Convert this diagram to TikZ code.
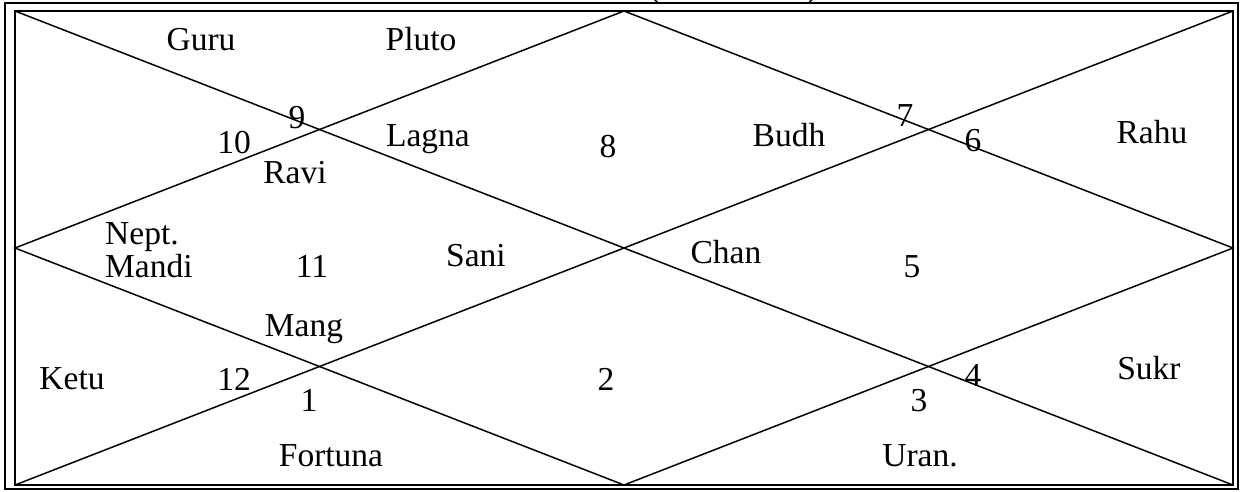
\documentclass[tikz,border=0pt]{standalone}
\usepackage{fontspec}
\setmainfont{Liberation Serif}

\begin{document}
\begin{tikzpicture}[x=1pt,y=-1pt,
    house/.style={line width=1.5pt,black},
    graha/.style={anchor=base,inner sep=0pt,font=\fontsize{33.5}{36}\selectfont}]
\useasboundingbox (0,0) rectangle (1240,491);
\coordinate (tl) at (15,11);
\coordinate (tr) at (1233,11);
\coordinate (bl) at (15,485);
\coordinate (br) at (1233,485);
\coordinate (tm) at (624,11);
\coordinate (bm) at (624,485);
\coordinate (lm) at (15,248);
\coordinate (rm) at (1233,248);
\draw[line width=1.1pt] (5,3) rectangle (1238,489);
\draw[line width=1.8pt] (tl) rectangle (br);
\draw[house] (tl) -- (br) (bl) -- (tr);
\draw[house] (tm) -- (rm) -- (bm) -- (lm) -- cycle;
\node[graha] (titleL) at (655,-3) {(};
\node[graha] (titleR) at (812,-3) {)};
\node[graha] (guru) at (201,50) {Guru};
\node[graha] (pluto) at (421,50) {Pluto};
\node[graha] (h9) at (297,128) {9};
\node[graha] (h10) at (234,153) {10};
\node[graha] (ravi) at (295,183) {Ravi};
\node[graha] (lagna) at (428,146) {Lagna};
\node[graha] (h8) at (608,157) {8};
\node[graha] (budh) at (789,146) {Budh};
\node[graha] (h7) at (905,126) {7};
\node[graha] (h6) at (973,151) {6};
\node[graha] (rahu) at (1152,143) {Rahu};
\node[graha,anchor=base west] (nept) at (105,244) {Nept.};
\node[graha,anchor=base west] (mandi) at (105,277) {Mandi};
\node[graha] (h11) at (312,277) {11};
\node[graha] (sani) at (476,266) {Sani};
\node[graha] (chan) at (726,263) {Chan};
\node[graha] (h5) at (912,277) {5};
\node[graha] (mang) at (304,336) {Mang};
\node[graha] (ketu) at (72,389) {Ketu};
\node[graha] (h12) at (234,390) {12};
\node[graha] (h1) at (309,411) {1};
\node[graha] (h2) at (606,390) {2};
\node[graha] (h4) at (973,386) {4};
\node[graha] (h3) at (919,411) {3};
\node[graha] (sukr) at (1149,379) {Sukr};
\node[graha] (fortuna) at (331,466) {Fortuna};
\node[graha] (uran) at (920,466) {Uran.};
\end{tikzpicture}
\end{document}
